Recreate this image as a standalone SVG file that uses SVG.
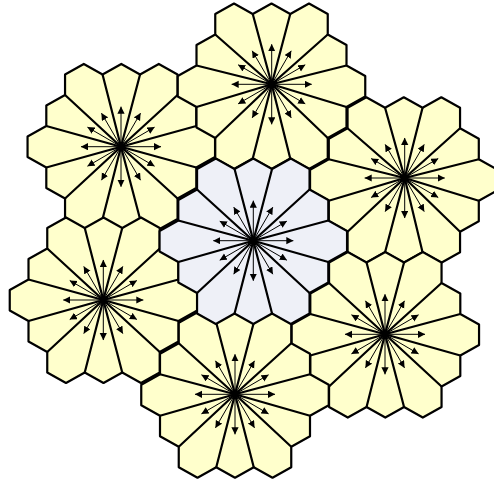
<svg xmlns="http://www.w3.org/2000/svg" width="494" height="479" viewBox="0 0 494 479">
<defs>
<marker id="a" markerUnits="userSpaceOnUse" markerWidth="8" markerHeight="8" refX="7" refY="3.6" orient="auto"><path d="M0 0L7.2 3.6L0 7.2z" fill="#000"/></marker>
<path id="p" d="M0-82.75L18.75-72.25L37.5-82.75L56.25-72.25V-51.75L75-41.25V-20.75L93.75-10.25V10.25L75 20.75V41.25L56.25 51.75V72.25L37.5 82.75L18.75 72.25L0 82.75L-18.75 72.25L-37.5 82.75L-56.25 72.25V51.75L-75 41.25V20.75L-93.75 10.25V-10.25L-75-20.75V-41.25L-56.25-51.75V-72.25L-37.5-82.75L-18.75-72.25z"/>
<g id="r" class="ar"><path d="M0 0V-40"/><path d="M0 0L19.5-33.5"/><path d="M0 0L33.5-19.5"/><path d="M0 0H40"/><path d="M0 0L33.5 19.5"/><path d="M0 0L19.5 33.5"/><path d="M0 0V40"/><path d="M0 0L-19.5 33.5"/><path d="M0 0L-33.5 19.5"/><path d="M0 0H-40"/><path d="M0 0L-33.5-19.5"/><path d="M0 0L-19.5-33.5"/></g>
</defs>
<style>
.y{fill:#ffffcc}.b{fill:#eef0f7}
.y,.b,.s{stroke:#000;stroke-width:2.2;stroke-linejoin:round}
.s{fill:none}
.ar path{fill:none;stroke:#000;stroke-width:1;marker-end:url(#a)}
</style>
<g id="nodes">
<g id="n1"><use href="#p" class="y" x="121.3" y="146.7"/><path class="s" transform="translate(121.3 146.7)" d="M18.75-72.25L-.3 0M56.25-51.75L-.3 0M75-20.75L-.3 0M75 20.75L-.3 0M56.25 51.75L-.3 0M18.75 72.25L-.3 0M-18.75 72.25L-.3 0M-56.25 51.75L-.3 0M-75 20.75L-.3 0M-75-20.75L-.3 0M-56.25-51.75L-.3 0M-18.75-72.25L-.3 0"/></g>
<g id="n2"><use href="#p" class="y" x="271.5" y="86.25"/><path class="s" transform="translate(271.5 86.25)" d="M18.75-72.25L.2-1.95M56.25-51.75L.2-1.95M75-20.75L.2-1.95M75 20.75L.2-1.95M56.25 51.75L.2-1.95M18.75 72.25L.2-1.95M-18.75 72.25L.2-1.95M-56.25 51.75L.2-1.95M-75 20.75L.2-1.95M-75-20.75L.2-1.95M-56.25-51.75L.2-1.95M-18.75-72.25L.2-1.95"/></g>
<g id="n3"><use href="#p" class="y" x="403.8" y="180"/><path class="s" transform="translate(403.8 180)" d="M18.75-72.25L.9-2M56.25-51.75L.9-2M75-20.75L.9-2M75 20.75L.9-2M56.25 51.75L.9-2M18.75 72.25L.9-2M-18.75 72.25L.9-2M-56.25 51.75L.9-2M-75 20.75L.9-2M-75-20.75L.9-2M-56.25-51.75L.9-2M-18.75-72.25L.9-2"/></g>
<g id="n4"><use href="#p" class="y" x="103.5" y="300.2"/><path class="s" transform="translate(103.5 300.2)" d="M18.75-72.25L-.2-.2M56.25-51.75L-.2-.2M75-20.75L-.2-.2M75 20.75L-.2-.2M56.25 51.75L-.2-.2M18.75 72.25L-.2-.2M-18.75 72.25L-.2-.2M-56.25 51.75L-.2-.2M-75 20.75L-.2-.2M-75-20.75L-.2-.2M-56.25-51.75L-.2-.2M-18.75-72.25L-.2-.2"/></g>
<g id="n5"><use href="#p" class="y" x="385.3" y="334.8"/><path class="s" transform="translate(385.3 334.8)" d="M18.75-72.25L-.3-.5M56.25-51.75L-.3-.5M75-20.75L-.3-.5M75 20.75L-.3-.5M56.25 51.75L-.3-.5M18.75 72.25L-.3-.5M-18.75 72.25L-.3-.5M-56.25 51.75L-.3-.5M-75 20.75L-.3-.5M-75-20.75L-.3-.5M-56.25-51.75L-.3-.5M-18.75-72.25L-.3-.5"/></g>
<g id="n6"><use href="#p" class="y" x="235" y="395"/><path class="s" transform="translate(235 395)" d="M18.75-72.25L0-.7M56.25-51.75L0-.7M75-20.75L0-.7M75 20.75L0-.7M56.25 51.75L0-.7M18.75 72.25L0-.7M-18.75 72.25L0-.7M-56.25 51.75L0-.7M-75 20.75L0-.7M-75-20.75L0-.7M-56.25-51.75L0-.7M-18.75-72.25L0-.7"/></g>
<g id="n0"><use href="#p" class="b" x="253.3" y="241.25"/><path class="s" transform="translate(253.3 241.25)" d="M18.75-72.25L0-.55M56.25-51.75L0-.55M75-20.75L0-.55M75 20.75L0-.55M56.25 51.75L0-.55M18.75 72.25L0-.55M-18.75 72.25L0-.55M-56.25 51.75L0-.55M-75 20.75L0-.55M-75-20.75L0-.55M-56.25-51.75L0-.55M-18.75-72.25L0-.55"/></g>
</g>
<g id="connectors">
<use href="#r" x="121" y="146.7"/>
<use href="#r" x="271.7" y="84.3"/>
<use href="#r" x="404.7" y="178"/>
<use href="#r" x="103.3" y="300"/>
<use href="#r" x="385" y="334.3"/>
<use href="#r" x="235" y="394.3"/>
<use href="#r" x="253.3" y="240.7"/>
</g>
</svg>
